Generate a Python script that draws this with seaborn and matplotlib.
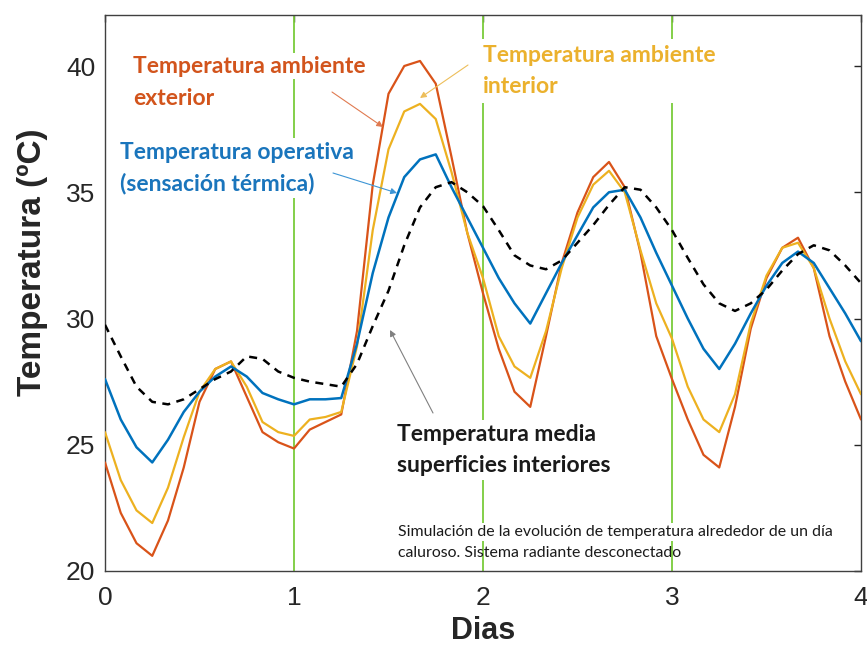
import numpy as np
import pandas as pd
import matplotlib
matplotlib.use("Agg")
import matplotlib.pyplot as plt
import seaborn as sns

# ---- data (step = 2 h) ----
dias = [i / 12 for i in range(49)]

t_exterior = [24.3, 22.3, 21.1, 20.6, 22.0, 24.1, 26.7, 28.0, 28.3, 26.9, 25.5, 25.1,
              24.85, 25.6, 25.9, 26.2, 29.5, 35.3, 38.9, 40.0, 40.2, 39.3, 36.4, 33.4,
              31.0, 28.8, 27.1, 26.5, 29.3, 32.2, 34.2, 35.6, 36.2, 35.2, 32.6, 29.3,
              27.6, 26.0, 24.6, 24.1, 26.5, 29.6, 31.6, 32.8, 33.2, 32.0, 29.3, 27.5, 26.0]

t_interior = [25.5, 23.6, 22.4, 21.9, 23.3, 25.3, 27.1, 28.0, 28.3, 27.3, 25.9, 25.5,
              25.35, 26.0, 26.1, 26.3, 28.9, 33.5, 36.7, 38.2, 38.5, 37.9, 35.8, 33.4,
              31.6, 29.3, 28.1, 27.65, 29.5, 32.0, 34.0, 35.3, 35.85, 35.0, 32.7, 30.6,
              29.2, 27.3, 26.0, 25.5, 27.0, 29.8, 31.7, 32.8, 33.0, 32.0, 30.0, 28.3, 27.0]

t_operativa = [27.6, 26.0, 24.9, 24.3, 25.2, 26.3, 27.1, 27.7, 28.1, 27.7, 27.05, 26.8,
               26.6, 26.8, 26.8, 26.85, 29.0, 31.8, 34.0, 35.6, 36.3, 36.5, 35.2, 34.0,
               32.8, 31.6, 30.6, 29.8, 31.0, 32.2, 33.3, 34.4, 35.0, 35.1, 34.0, 32.6,
               31.3, 30.0, 28.8, 28.0, 29.0, 30.2, 31.3, 32.2, 32.65, 32.2, 31.2, 30.2, 29.1]

t_superficies = [29.75, 28.5, 27.3, 26.7, 26.6, 26.8, 27.2, 27.6, 27.9, 28.5, 28.4, 27.9,
                 27.65, 27.5, 27.4, 27.3, 28.2, 29.7, 31.1, 32.9, 34.4, 35.2, 35.4, 35.0,
                 34.45, 33.5, 32.5, 32.1, 31.95, 32.3, 33.0, 33.7, 34.5, 35.2, 35.1, 34.4,
                 33.5, 32.4, 31.35, 30.6, 30.3, 30.6, 31.15, 31.9, 32.55, 32.9, 32.7, 32.1, 31.4]

dias_marcas = [1, 2, 3]
x_ticks = [0, 1, 2, 3, 4]
y_ticks = [20, 25, 30, 35, 40]

C_EXT = "#D95319"
C_INT = "#EDB120"
C_OP = "#0072BD"
C_GREEN = "#7ACB3A"

sns.set_style("white")
plt.rcParams["font.family"] = ["Liberation Sans", "DejaVu Sans"]

fig = plt.figure(figsize=(8.67, 6.49), dpi=100)
ax = fig.add_axes([105 / 867, 1 - 571 / 649, 756 / 867, 556 / 649])

df = pd.DataFrame({"dias": dias, "ext": t_exterior, "int": t_interior,
                   "op": t_operativa, "sup": t_superficies})

for d in dias_marcas:
    ax.axvline(d, color=C_GREEN, lw=1.3, zorder=1)

sns.lineplot(data=df, x="dias", y="ext", ax=ax, color=C_EXT, lw=1.6, zorder=4)
sns.lineplot(data=df, x="dias", y="int", ax=ax, color=C_INT, lw=1.6, zorder=4)
sns.lineplot(data=df, x="dias", y="op", ax=ax, color=C_OP, lw=1.8, zorder=5)
sns.lineplot(data=df, x="dias", y="sup", ax=ax, color="black", lw=1.8, zorder=5,
             linestyle=(0, (3.2, 2.6)))

ax.set_xlim(0, 4)
ax.set_ylim(20, 42.02)
ax.set_xticks(x_ticks)
ax.set_yticks(y_ticks)
ax.tick_params(direction="in", length=5, width=1, colors="#262626",
               labelsize=19, top=True, right=True)
ax.tick_params(axis="x", pad=11)
ax.tick_params(axis="y", pad=7)
for lab in ax.get_xticklabels() + ax.get_yticklabels():
    lab.set_color("#262626")
for s in ax.spines.values():
    s.set_color("#404040")
    s.set_linewidth(1.0)

ax.set_xlabel("Dias", fontsize=22, fontweight="bold", color="#262626", labelpad=4)
ax.set_ylabel("Temperatura (ºC)", fontsize=24, fontweight="bold", color="#262626")
ax.yaxis.set_label_coords((48 - 105) / 756, (571 - 262) / 556)

LFS = 16.5
lab_font = dict(family=["Lato", "DejaVu Sans"], fontweight="bold", fontsize=LFS)
wbox = dict(facecolor="white", edgecolor="none", pad=1.5)

# px -> data helpers (for annotation placement only)
def dx(px):
    return (px - 105) / 189.0

def dy(py):
    return 20 + (571 - py) / 25.25

def T(x, y, s, color, box=True, **kw):
    kws = dict(lab_font)
    kws.update(kw)
    return ax.text(x, y, s, color=color, va="center", ha="left", zorder=3,
                   bbox=wbox if box else None, **kws)

T(dx(133), dy(66), "Temperatura ambiente", "#D2541C")
T(dx(133), dy(98), "exterior", "#D2541C")
ax.text(dx(120), dy(168), "Temperatura operativa\n(sensación térmica)", color="#1A75BC",
        va="center", ha="left", zorder=3, linespacing=1.55,
        bbox=dict(facecolor="white", edgecolor="none", pad=3), **lab_font)
ax.text(dx(483), dy(71), "Temperatura ambiente\ninterior", color="#EBB12D",
        va="center", ha="left", zorder=3, linespacing=1.6,
        bbox=dict(facecolor="white", edgecolor="none", pad=4), **lab_font)
ax.text(dx(397), dy(450), "Temperatura media\nsuperficies interiores", color="#1a1a1a",
        va="center", ha="left", zorder=3, linespacing=1.6,
        bbox=dict(facecolor="white", edgecolor="none", pad=3), **lab_font)
T(dx(398), dy(532), "Simulación de la evolución de temperatura alrededor de un día",
  "#1a1a1a", fontweight="normal", fontsize=11.4)
T(dx(398), dy(553), "caluroso. Sistema radiante desconectado", "#1a1a1a", box=False,
  fontweight="normal", fontsize=11.4)

def arrow(x0, y0, x1, y1, color):
    ax.annotate("", xy=(dx(x1), dy(y1)), xytext=(dx(x0), dy(y0)),
                arrowprops=dict(arrowstyle="-|>", color=color, lw=0.8,
                                mutation_scale=9, shrinkA=0, shrinkB=0), zorder=6)

arrow(332, 92, 383, 127, "#E07A50")
arrow(333, 173, 397, 193, "#3D95D5")
arrow(468, 65, 420, 98, "#EDBE5A")
arrow(433, 413, 390, 330, "#808080")

fig.savefig("out.png", dpi=100)
